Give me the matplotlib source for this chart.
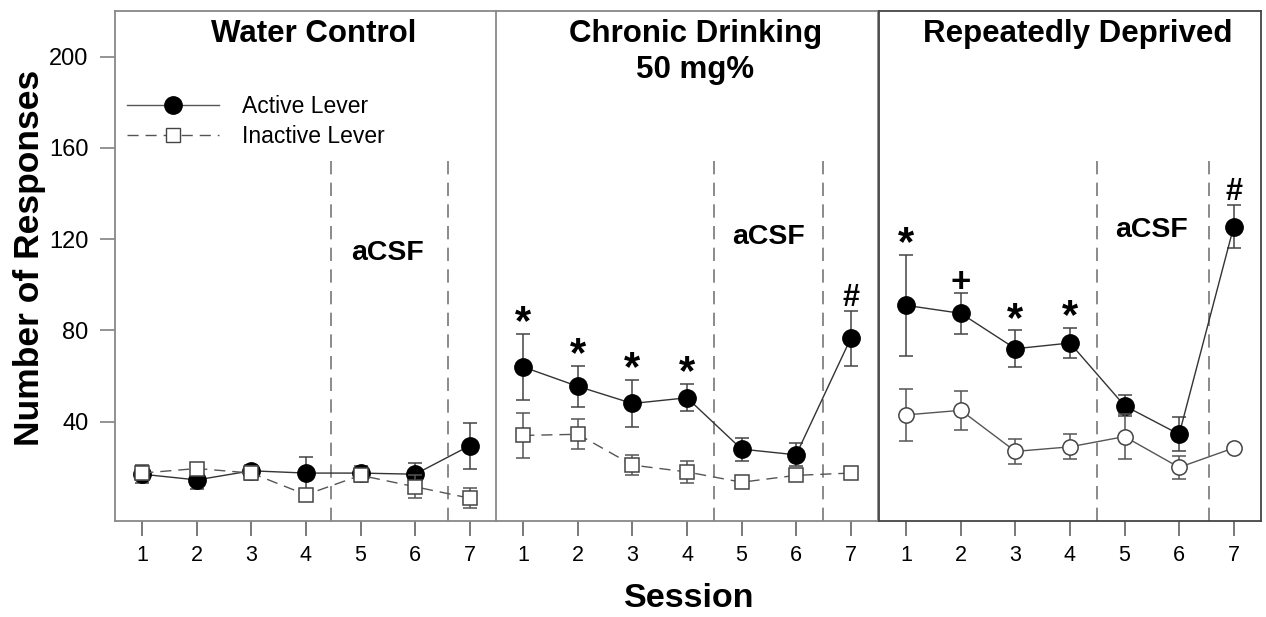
import matplotlib
matplotlib.use('Agg')
import matplotlib.pyplot as plt
from matplotlib.lines import Line2D

plt.rcParams['font.family'] = ['Liberation Sans', 'DejaVu Sans']

sessions = [1, 2, 3, 4, 5, 6, 7]

# Water Control
wc_active = [17, 14.5, 18.5, 17.5, 17.5, 17, 29.5]
wc_active_err = [4, 4, 2.5, 7, 3, 5, 10]
wc_inactive = [17.5, 19.5, 17.5, 8, 16.5, 11.5, 6.5]
wc_inactive_err = [3, 2, 3, 2, 3, 5, 4.5]

# Chronic Drinking 50 mg%
cd_active = [64, 55.5, 48, 50.5, 28, 25.5, 76.5]
cd_active_err = [14.5, 9, 10.5, 6, 5, 5, 12]
cd_inactive = [34, 34.5, 21, 18, 13.5, 16.5, 17.5]
cd_inactive_err = [10, 6.5, 4.5, 5, 1, 2, 1]
cd_marks = ['*', '*', '*', '*', '', '', '#']

# Repeatedly Deprived
rd_active = [91, 87.5, 72, 74.5, 47, 34.5, 125.5]
rd_active_err = [22, 9, 8, 6.5, 4.5, 7.5, 9.5]
rd_inactive = [43, 45, 27, 29, 33.5, 20, 28.5]
rd_inactive_err = [11.5, 8.5, 5.5, 5.5, 10, 5, 1.5]
rd_marks = ['*', '+', '*', '*', '', '', '#']

titles = ['Water Control', 'Chronic Drinking\n50 mg%', 'Repeatedly Deprived']
separators = [[4.45, 6.6], [4.5, 6.5], [4.5, 6.55]]
acsf_y = [114, 121, 124]

panels = [
    (wc_active, wc_active_err, wc_inactive, wc_inactive_err, None, 's', (0, (8, 5))),
    (cd_active, cd_active_err, cd_inactive, cd_inactive_err, cd_marks, 's', (0, (8, 5))),
    (rd_active, rd_active_err, rd_inactive, rd_inactive_err, rd_marks, 'o', '-'),
]

# how far the symbol's bottom sits from the top of the error bar
mark_offset = {'*': -4, '#': -1, '+': -2.5}
mark_size = {'*': 30, '#': 22, '+': 25}

fig = plt.figure(figsize=(12.66, 6.17), dpi=100)
lefts = [115 / 1266, 496 / 1266, 879 / 1266]
width = 382 / 1266
bottom = 96 / 617
height = 510 / 617

for i, (act, act_err, ina, ina_err, marks, imark, istyle) in enumerate(panels):
    ax = fig.add_axes([lefts[i], bottom, width, height])
    ax.set_xlim(0.5, 7.5)
    ax.set_ylim(-3.5, 220)

    spine_col = '#444444' if i == 2 else '#888888'
    for sp in ax.spines.values():
        sp.set_color(spine_col)
        sp.set_linewidth(1.3)

    for xs in separators[i]:
        ax.plot([xs, xs], [-3.5, 156], color='#777777', lw=1.2,
                linestyle=(0, (8, 5)), zorder=1)

    ax.errorbar(sessions, act, yerr=act_err, color='#333333', lw=1.0,
                marker='o', markersize=12.5, mfc='black', mec='black',
                ecolor='#444444', elinewidth=1.1, capsize=5, capthick=1.1, zorder=3)
    ax.errorbar(sessions, ina, yerr=ina_err, color='#555555', lw=1.0,
                linestyle=istyle, marker=imark,
                markersize=10 if imark == 's' else 11,
                mfc='white', mec='#444444', mew=1.1,
                ecolor='#555555', elinewidth=1.1, capsize=5, capthick=1.1, zorder=4)

    if marks:
        for s, m, v, e in zip(sessions, marks, act, act_err):
            if m:
                ax.text(s, v + e + mark_offset[m], m, ha='center', va='bottom',
                        fontsize=mark_size[m], fontweight='bold', zorder=5)

    ax.text(4.15, 216.5, titles[i], ha='center', va='top', fontsize=22.5,
            fontweight='bold', linespacing=1.25)
    ax.text(5.5, acsf_y[i], 'aCSF', ha='center', va='center', fontsize=20.5,
            fontweight='bold')

    ax.set_xticks(sessions)
    ax.set_xticklabels([str(s) for s in sessions])
    ax.tick_params(axis='x', direction='out', length=11, width=1.1,
                   colors='#555555', labelcolor='black', labelsize=15.5, pad=6)
    if i == 0:
        ax.set_yticks([40, 80, 120, 160, 200])
        ax.tick_params(axis='y', direction='out', length=11, width=1.1,
                       colors='#777777', labelcolor='black', labelsize=17, pad=8)
        handles = [
            Line2D([], [], color='#555555', lw=1.0, marker='o', markersize=12.5,
                   mfc='black', mec='black'),
            Line2D([], [], color='#555555', lw=1.0, linestyle=(0, (8, 5)),
                   marker='s', markersize=10, mfc='white', mec='#444444'),
        ]
        ax.legend(handles, ['Active Lever', 'Inactive Lever'], loc='upper left',
                  bbox_to_anchor=(-0.01, 0.866), frameon=False, fontsize=16.5,
                  handlelength=4.0, handletextpad=1.0, labelspacing=0.3,
                  borderaxespad=0.3)
    else:
        ax.set_yticks([])

fig.text(30 / 1266, 0.582, 'Number of Responses', rotation=90, ha='center',
         va='center', fontsize=25.5, fontweight='bold')
fig.text(689 / 1266, 0.03, 'Session', ha='center', va='center', fontsize=24.5,
         fontweight='bold')

fig.savefig('out.png', dpi=100)
